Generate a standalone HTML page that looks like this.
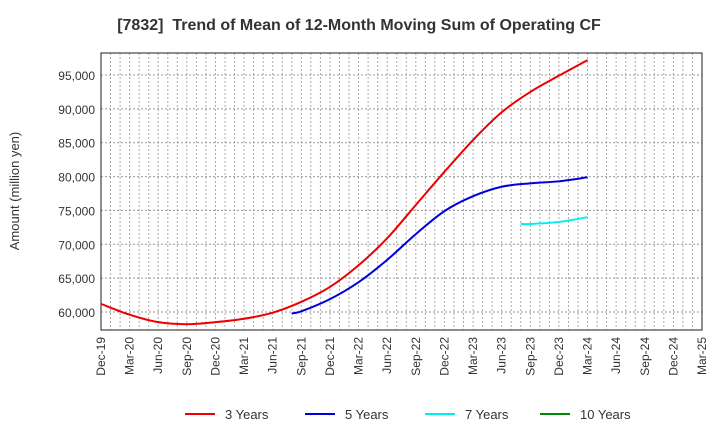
<!DOCTYPE html>
<html><head><meta charset="utf-8"><style>
body{margin:0;background:#fff;font-family:"Liberation Sans",Arial,sans-serif}
svg text{font-family:"Liberation Sans",Arial,sans-serif}
</style></head><body>
<svg id="c" width="720" height="440" xmlns="http://www.w3.org/2000/svg">
<text x="359" y="30" text-anchor="middle" font-size="16" font-weight="bold" fill="#333" xml:space="preserve" style="white-space:pre">[7832]  Trend of Mean of 12-Month Moving Sum of Operating CF</text>
<text transform="translate(19,191) rotate(-90)" text-anchor="middle" font-size="13" fill="#333">Amount (million yen)</text>
<g id="grid"></g><g id="series"></g><g id="axes"></g>
<g id="legend"></g>
</svg>
<script>
const xLabels=["Dec-19","Mar-20","Jun-20","Sep-20","Dec-20","Mar-21","Jun-21","Sep-21","Dec-21","Mar-22","Jun-22","Sep-22","Dec-22","Mar-23","Jun-23","Sep-23","Dec-23","Mar-24","Jun-24","Sep-24","Dec-24","Mar-25"];
const yTicks=[60000,65000,70000,75000,80000,85000,90000,95000];
const m3=[0,3,6,9,12,15,18,21,24,27,30,33,36,39,42,45,48,51];
const v3=[61200,59600,58500,58200,58500,59000,59900,61500,63700,66900,70900,75800,80700,85400,89500,92500,94900,97200];
const m5=[20,21,24,27,30,33,36,39,42,45,48,51];
const v5=[59800,60100,61900,64400,67700,71500,74900,77100,78500,79000,79300,79900];
const m7=[44,45,48,51];
const v7=[73000,73000,73300,74000];
const L=101,R=702,T=53,B=330,NS="http://www.w3.org/2000/svg";
const xs=m=>L+m*(R-L)/63;
const ys=v=>75+(95000-v)/5000*(312-75)/7;
function mk(t,a,p){const e=document.createElementNS(NS,t);for(const k in a)e.setAttribute(k,a[k]);p.appendChild(e);return e;}
const g=document.getElementById('grid'),ax=document.getElementById('axes'),s=document.getElementById('series'),lg=document.getElementById('legend');
for(let m=1;m<63;m++){const l=mk('line',{x1:xs(m),x2:xs(m),y1:T,y2:B,stroke:'#aaa','stroke-dasharray':'2,2','stroke-width':1},g);

}
yTicks.forEach(v=>{const l=mk('line',{x1:L,x2:R,y1:ys(v),y2:ys(v),stroke:'#999','stroke-dasharray':'2,2'},g);


const t=mk('text',{x:L-6,y:ys(v)+5,'text-anchor':'end','font-size':12,fill:'#333'},ax);t.textContent=v.toLocaleString('en-US');

});
const fr=mk('rect',{x:L,y:T,width:R-L,height:B-T,fill:'none',stroke:'#444','stroke-width':1.2},ax);


xLabels.forEach((lb,i)=>{const x=xs(i*3);const t=mk('text',{transform:`translate(${x+4},${B+7}) rotate(-90)`,'text-anchor':'end','font-size':12,fill:'#333'},ax);t.textContent=lb;

});
function path(ms,vs){const p=ms.map((m,i)=>[xs(m),ys(vs[i])]);let d=`M${p[0][0]},${p[0][1]}`;
for(let i=0;i<p.length-1;i++){const p0=p[i-1]||p[i],p1=p[i],p2=p[i+1],p3=p[i+2]||p2;
d+=` C${p1[0]+(p2[0]-p0[0])/6},${p1[1]+(p2[1]-p0[1])/6} ${p2[0]-(p3[0]-p1[0])/6},${p2[1]-(p3[1]-p1[1])/6} ${p2[0]},${p2[1]}`;}return d;}
[[m3,v3,'#e00','series-3-years'],[m5,v5,'#00d','series-5-years'],[m7,v7,'#0ee','series-7-years']].forEach(([m,v,c,n])=>{
const e=mk('path',{d:path(m,v),fill:'none',stroke:c,'stroke-width':2},s);

});
[['3 Years','#e00',185],['5 Years','#00d',305],['7 Years','#0ee',425],['10 Years','#080',540]].forEach(([t,c,x])=>{
const gg=mk('g',{},lg);


mk('line',{x1:x,x2:x+30,y1:414,y2:414,stroke:c,'stroke-width':2},gg);
const tx=mk('text',{x:x+40,y:419,'font-size':13,fill:'#333'},gg);tx.textContent=t;});
</script>
</body></html>
